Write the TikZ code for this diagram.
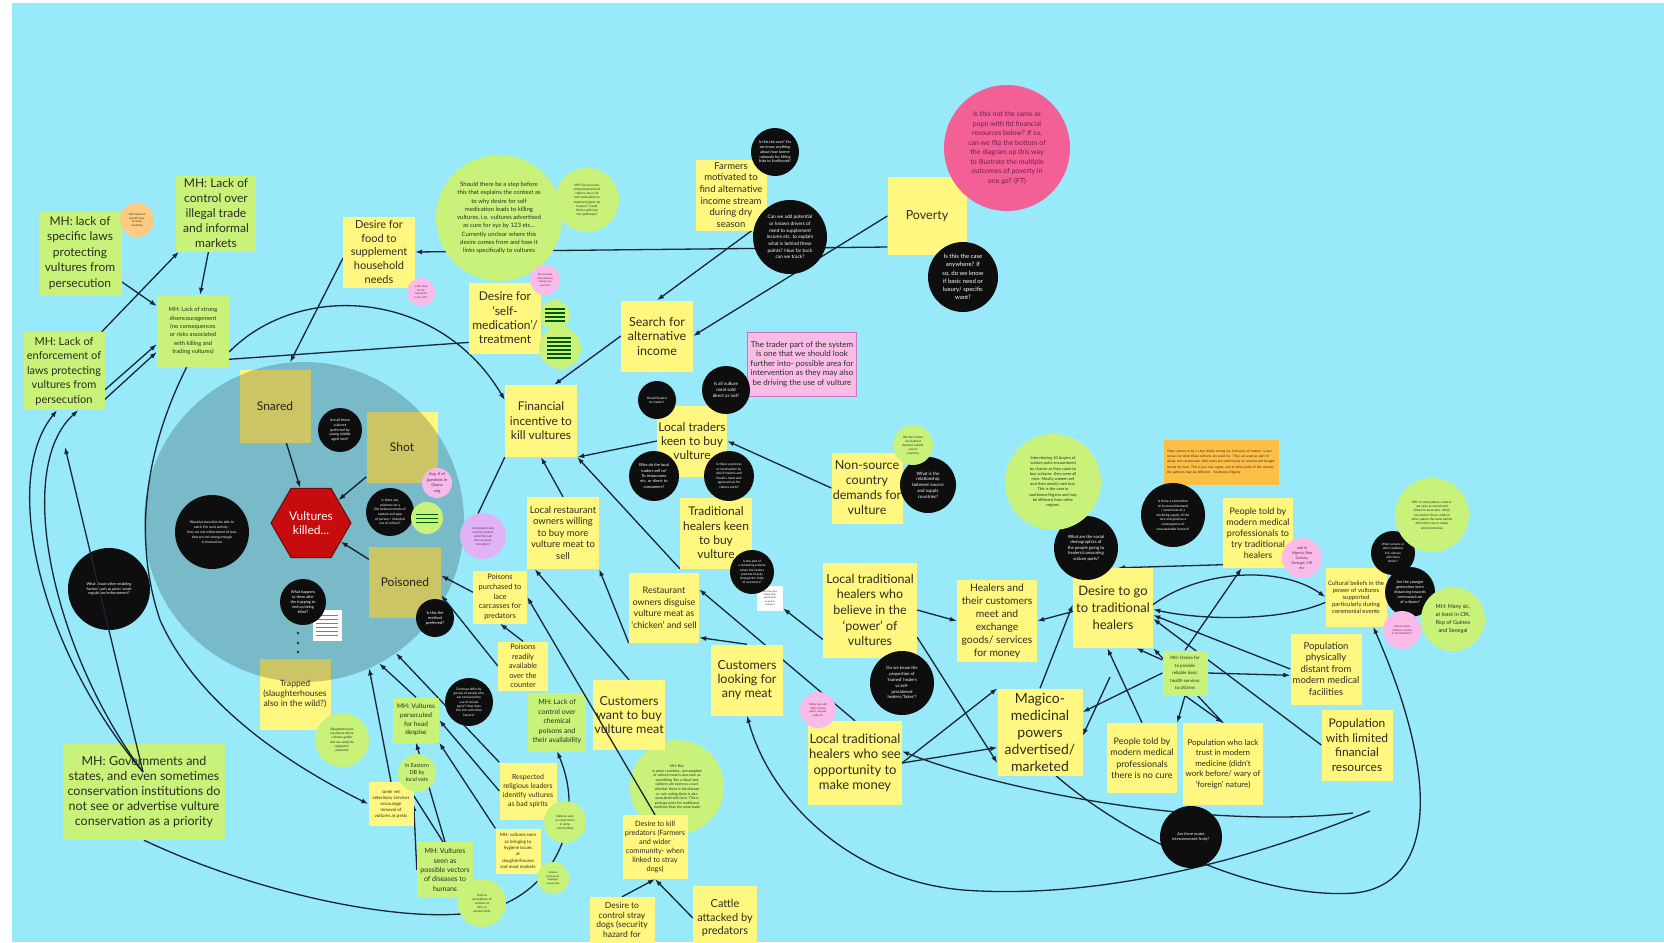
\documentclass[tikz,border=0pt]{standalone}
\usepackage{fontspec}
\setmainfont{Lato}
\usetikzlibrary{arrows.meta,shapes.geometric}
\pgfdeclarelayer{bg}
\pgfdeclarelayer{wires}
\pgfsetlayers{bg,wires,main}
\definecolor{boardcyan}{RGB}{152,233,250}
\definecolor{stickyyellow}{RGB}{255,247,128}
\definecolor{stickygreen}{RGB}{200,242,122}
\definecolor{notepink}{RGB}{249,188,232}
\definecolor{notepinkdark}{RGB}{200,120,180}
\definecolor{lilac}{RGB}{224,178,246}
\definecolor{hotpink}{RGB}{243,96,150}
\definecolor{noteorange}{RGB}{255,190,70}
\definecolor{circorange}{RGB}{255,202,130}
\definecolor{killred}{RGB}{198,12,12}
\definecolor{killdark}{RGB}{110,10,10}
\definecolor{blobblack}{RGB}{14,14,14}
\definecolor{inkc}{RGB}{45,45,30}
\definecolor{pinkink}{RGB}{110,30,80}
\definecolor{wirec}{RGB}{22,38,52}
\newcommand\fsz[2]{\fontsize{#1}{#2}\selectfont}
\tikzset{
  stk/.style 2 args={rectangle, minimum width=#1, minimum height=#2, inner sep=1pt, align=center, text=inkc},
  yel/.style={fill=stickyyellow},
  grn/.style={fill=stickygreen},
  blob/.style={circle, minimum size=#1, inner sep=0pt, align=center},
  blk/.style={fill=blobblack, text=white},
  lime/.style={fill=stickygreen, text=inkc},
  pnk/.style={fill=notepink, text=pinkink},
  arr/.style={draw=wirec, line width=1.3pt, -{Latex[length=7pt,width=5pt]}},
  ln/.style={draw=wirec, line width=1.3pt},
}
\begin{document}
\begin{tikzpicture}[x=1pt,y=-1pt]
\useasboundingbox (0,0) rectangle (1664,942);
\begin{pgfonlayer}{bg}
  \fill[white] (0,0) rectangle (1664,942);
  \fill[boardcyan] (12,3) rectangle (1664,942);
\end{pgfonlayer}

% stickies that sit under the grey circle
\node[stk={71}{73},yel,font=\fsz{12}{15}] (snared) at (275,406) {Snared};
\node[stk={71}{71},yel,font=\fsz{12}{15}] (shot) at (402,447) {Shot};
\node[stk={72}{71},yel,font=\fsz{12}{15}] (poisoned) at (405,582) {Poisoned};
\node[stk={71}{71},yel,font=\fsz{8.6}{10}] (trapped) at (295,694) {Trapped\\(slaughterhouses\\also in the wild?)};
\node[circle, minimum size=320, inner sep=0pt, fill=black, fill opacity=.2] (circ) at (304,522) {};

\node[regular polygon, regular polygon sides=6, minimum size=80, inner sep=0pt, fill=killred, draw=killdark, line width=1pt, text=white, align=center, font=\fsz{12}{14}] (killed) at (311,523) {Vultures\\killed...};

% this one lies under the predators sticky
\node[blob=94,lime,font=\fsz{3.6}{4.6}] (g11) at (677,787) {MH: But,\\in some countries, consumption\\of vulture meat is also seen as\\something ‘like a ritual’ and\\vultures are eaten as a cure\\whether there is the disease\\or not: eating them is also\\associated with luck. This is\\perhaps more for traditional\\medicine than the meat trade};

% MH stickies (green)
\node[stk={83}{83},grn,font=\fsz{12}{15.5}] (lawsspec) at (80,253) {MH: lack of\\specific laws\\protecting\\vultures from\\persecution};
\node[stk={80}{77},grn,font=\fsz{12}{15}] (illegal) at (216,213) {MH: Lack of\\control over\\illegal trade\\and informal\\markets};
\node[stk={72}{72},grn,font=\fsz{5.8}{8.3}] (strong) at (193,331) {MH: Lack of strong\\disencouragement\\(no consequences\\or risks associated\\with killing and\\trading vultures)};
\node[stk={81}{78},grn,font=\fsz{11}{14.5}] (enforce) at (64,371) {MH: Lack of\\enforcement of\\laws protecting\\vultures from\\persecution};
\node[stk={162}{96},grn,font=\fsz{12.5}{15}] (govts) at (144,792) {MH: Governments and\\states, and even sometimes\\conservation institutions do\\not see or advertise vulture\\conservation as a priority};
\node[stk={46}{45},grn,font=\fsz{6.5}{8.7}] (persecuted) at (416,720) {MH: Vultures\\persecuted\\for head\\despise};
\node[stk={56}{56},grn,font=\fsz{7}{9.3}] (vectors) at (445,870) {MH: Vultures\\seen as\\possible vectors\\of diseases to\\humans};
\node[stk={58}{58},grn,font=\fsz{7}{9.5}] (chemical) at (557,722) {MH: Lack of\\control over\\chemical\\poisons and\\their availability};
\node[stk={45}{45},grn,font=\fsz{4.5}{7.5}] (healthserv) at (1185,673) {MH: Desire for\\to provide\\reliable basic\\health services\\to citizens};

% yellow stickies
\node[stk={72}{71},yel,font=\fsz{11}{13.8}] (food) at (379,252) {Desire for\\food to\\supplement\\household\\needs};
\node[stk={72}{71},yel,font=\fsz{12}{14.3}] (selfmed) at (505,318) {Desire for\\‘self-\\medication’/\\treatment};
\node[stk={72}{71},yel,font=\fsz{12.5}{14.5}] (search) at (657,336) {Search for\\alternative\\income};
\node[stk={71}{71},yel,font=\fsz{9.5}{11.7}] (farmers) at (731,195) {Farmers\\motivated to\\find alternative\\income stream\\during dry\\season};
\node[stk={79}{78},yel,font=\fsz{12.5}{15}] (poverty) at (927,216) {Poverty};
\node[stk={72}{72},yel,font=\fsz{12}{14.5}] (financial) at (541,421) {Financial\\incentive to\\kill vultures};
\node[stk={70}{71},yel,font=\fsz{12}{14.3}] (traders) at (692,441) {Local traders\\keen to buy\\vulture};
\node[stk={72}{72},yel,font=\fsz{9.5}{11.5}] (restowners) at (563,533) {Local restaurant\\owners willing\\to buy more\\vulture meat to\\sell};
\node[stk={72}{71},yel,font=\fsz{12}{14.3}] (tradkeen) at (716,533) {Traditional\\healers keen\\to buy\\vulture};
\node[stk={70}{70},yel,font=\fsz{9}{11.5}] (disguise) at (664,608) {Restaurant\\owners disguise\\vulture meat as\\‘chicken’ and sell};
\node[stk={71}{71},yel,font=\fsz{12.5}{15}] (nonsource) at (867,488) {Non-source\\country\\demands for\\vulture};
\node[stk={94}{95},yel,font=\fsz{12.5}{15.7}] (believe) at (870,610) {Local traditional\\healers who\\believe in the\\‘power’ of\\vultures};
\node[stk={80}{82},yel,font=\fsz{10.3}{13}] (exchange) at (997,621) {Healers and\\their customers\\meet  and\\exchange\\goods/ services\\for money};
\node[stk={80}{80},yel,font=\fsz{13}{16.7}] (desirego) at (1113,608) {Desire to go\\to traditional\\healers};
\node[stk={91}{84},yel,font=\fsz{13}{15.5}] (opportunity) at (855,763) {Local traditional\\healers who see\\opportunity to\\make money};
\node[stk={85}{87},yel,font=\fsz{14}{17}] (magico) at (1040,732) {Magico-\\medicinal\\powers\\advertised/\\marketed};
\node[stk={70}{70},yel,font=\fsz{9}{11.5}] (nocure) at (1142,758) {People told by\\modern medical\\professionals\\there is no cure};
\node[stk={80}{82},yel,font=\fsz{8}{10.5}] (lacktrust) at (1223,764) {Population who lack\\trust in modern\\medicine (didn’t\\work before/ wary of\\‘foreign’ nature)};
\node[stk={70}{70},yel,font=\fsz{9}{11}] (trytrad) at (1258,533) {People told by\\modern medical\\professionals to\\try traditional\\healers};
\node[stk={71}{71},yel,font=\fsz{9.5}{11.5}] (distant) at (1326,669) {Population\\physically\\distant from\\modern medical\\facilities};
\node[stk={71}{71},yel,font=\fsz{12}{14.5}] (limited) at (1357,745) {Population\\with limited\\financial\\resources};
\node[stk={61}{59},yel,font=\fsz{6}{7}] (cultural) at (1356,597) {Cultural beliefs in the\\power of vultures\\supported\\particularly during\\ceremonial events};
\node[stk={72}{70},yel,font=\fsz{12.5}{14}] (custwant) at (629,715) {Customers\\want to buy\\vulture meat};
\node[stk={72}{71},yel,font=\fsz{12.5}{14}] (custany) at (747,680) {Customers\\looking for\\any meat};
\node[stk={65}{64},yel,font=\fsz{7.3}{9}] (killpred) at (655,847) {Desire to kill\\predators (Farmers\\and wider\\community- when\\linked to stray\\dogs)};
\node[stk={65}{46},yel,font=\fsz{8.5}{9.8}] (straydogs) at (622,920) {Desire to\\control stray\\dogs (security\\hazard for};
\node[stk={64}{64},yel,font=\fsz{11}{13.5}] (cattle) at (725,918) {Cattle\\attacked by\\predators};
\node[stk={54}{53},yel,font=\fsz{7.5}{9.7}] (poisonspurch) at (500,597) {Poisons\\purchased to\\lace\\carcasses for\\predators};
\node[stk={50}{49},yel,font=\fsz{7.5}{9.5}] (poisonsready) at (523,666) {Poisons\\readily\\available\\over the\\counter};
\node[stk={57}{57},yel,font=\fsz{7}{9}] (religious) at (528,791) {Respected\\religious leaders\\identify vultures\\as bad spirits};
\node[stk={45}{44},yel,font=\fsz{4.5}{6}] (vetbox) at (391,804) {some vet\\veterinary services\\encourage\\removal of\\vultures as pests};
\node[stk={45}{45},yel,font=\fsz{4.5}{6.3}] (hygiene) at (518,851) {MH: vultures seen\\as bringing to\\hygiene issues\\at\\slaughterhouses\\and meat markets};

% notes
\node[stk={109}{64},fill=notepink,draw=notepinkdark,line width=.6pt,font=\fsz{8}{9.5}] (tradernote) at (802,364) {The trader part of the system\\is one that we should look\\further into- possible area for\\intervention as they may also\\be driving the use of vulture};
\node[stk={115}{45},fill=noteorange,font=\fsz{3.3}{5.4},text width=108pt,align=left] (orangenote) at (1221,462) {There seems to be a clear divide during my interview of traders: a consensus on what these vultures are used for. They are used as part of rituals and ceremonies, their parts are sold mostly by women and bought mostly by men. This is just one region, and in other parts of the country the patterns may be different - Southwest Nigeria};
\node[fill=white, minimum width=29, minimum height=31, inner sep=0pt] (w1) at (327,625) {};
\foreach \yy in {-10,-6,-2,2,6,10}
  \draw[gray, line width=1pt] (316,625+\yy) -- (338,625+\yy);
\node[fill=white, minimum width=26, minimum height=25, inner sep=0pt, align=center, text=inkc, font=\fsz{2.4}{3.2}] (w2) at (770,598) {Are they also\\selling other\\animal parts\\as well as\\vultures?};

% black question circles
\node[blob=48,blk,font=\fsz{3.8}{4.8}] (b1) at (775,152) {Is this the case? Do\\we know anything\\about how farmer\\rationale for killing\\links to livelihoods?};
\node[blob=74,blk,font=\fsz{4.8}{6.7}] (b2) at (790,237) {Can we add potential\\or known drivers of\\need to supplement\\income etc. to explain\\what is behind these\\points? How far back\\can we track?};
\node[blob=70,blk,font=\fsz{6}{8.3}] (b3) at (963,277) {Is this the case\\anywhere? If\\so, do we know\\if basic need or\\luxury/ specific\\want?};
\node[blob=44,blk,font=\fsz{3.6}{4.8}] (b4) at (340,430) {Are all these\\vultures\\preferred by\\young middle\\aged men?};
\node[blob=48,blk,font=\fsz{3.3}{4.6}] (b5) at (390,512) {Is there any\\evidence on a\\link between mode of\\capture and type\\of person / intended\\use of vulture?};
\node[blob=74,blk,font=\fsz{3.4}{5}] (b6) at (212,532) {Would prosecution be able to\\catch if in such activity -\\they are not enforcement of laws\\that are not strong enough\\in themselves};
\node[blob=82,blk,font=\fsz{3.8}{4.8}] (b7) at (109,589) {What about other enabling\\factors such as poor/ weak\\regulation/enforcement?};
\node[blob=46,blk,font=\fsz{3.8}{5}] (b8) at (303,602) {What happens\\to them after\\the trapping to\\end up being\\killed?};
\node[blob=38,blk,font=\fsz{4}{5}] (b9) at (435,618) {Is this the\\method\\preferred?};
\node[blob=48,blk,font=\fsz{3.2}{4.3}] (b10) at (469,702) {Do these differ by\\groups of people who\\are concerned by\\use of animal\\parts? How does\\this link with other\\factors?};
\node[blob=38,blk,font=\fsz{3}{4}] (b11) at (657,400) {Should Readers\\be traders?};
\node[blob=48,blk,font=\fsz{4.5}{5.8}] (b12) at (726,390) {Is all vulture\\meat sold\\direct or not?};
\node[blob=50,blk,font=\fsz{4}{5.3}] (b13) at (654,476) {Who do the local\\traders sell to?\\To restaurants\\etc. or direct to\\consumers?};
\node[blob=50,blk,font=\fsz{3.3}{4.5}] (b14) at (729,476) {Is there a process\\or mechanism by\\which traders and\\healers meet and\\agree prices for\\vulture parts?};
\node[blob=44,blk,font=\fsz{3.1}{4.2}] (b15) at (752,572) {Is this part of\\a marketing scheme\\where the healers\\promote heavily\\through the trade\\of customers?};
\node[blob=56,blk,font=\fsz{4.5}{5.8}] (b16) at (928,485) {What is the\\relationship\\between source\\and supply\\countries?};
\node[blob=64,blk,font=\fsz{4.3}{5.6}] (b17) at (1086,548) {What are the social\\demographics of\\the people going to\\healers/consuming\\vulture parts?};
\node[blob=64,blk,font=\fsz{3.3}{4.6}] (b18) at (1173,515) {Is there a connection\\to increased demand\\/ awareness of a\\declining supply of the\\rare and good as a\\consequence of\\unsustainable harvest?};
\node[blob=64,blk,font=\fsz{4.3}{5.8}] (b19) at (902,683) {Do we know the\\proportion of\\‘trained’ healers\\vs self-\\proclaimed\\healers/‘fakes’?};
\node[blob=62,blk,font=\fsz{3.8}{5}] (b20) at (1191,837) {Are there routes\\interconnected firstly?};
\node[blob=44,blk,font=\fsz{3}{4.2}] (b21) at (1393,553) {What cultures or\\other traditions\\link vultures\\with these\\beliefs?};
\node[blob=50,blk,font=\fsz{3.8}{5}] (b22) at (1410,592) {Are the younger\\generation more\\distancing towards\\ceremonial use\\of vultures?};

% green comment circles
\node[blob=126,lime,font=\fsz{6}{8.3}] (g1) at (499,218) {Should there be a step before\\this that explains the context as\\to why desire for self\\medication leads to killing\\vultures, i.e. vultures advertised\\as cure for xyz by 123 etc...\\Currently unclear where this\\desire comes from and how it\\links specifically to vultures};
\node[blob=64,lime,font=\fsz{3.2}{4.2}] (g2) at (587,200) {MH: Do we know\\what proportion of\\vulture use is for\\self-medication vs\\treatment given by\\healers? Could\\this be split into\\two pathways?};
\node[blob=30,lime] (g3) at (555,315) {};
\foreach \yy in {-6,-2,2,6}
  \draw[green!35!black, line width=1.2pt] (545,315+\yy) -- (565,315+\yy);
\node[blob=42,lime] (g4) at (560,348) {};
\foreach \yy in {-10,-6,-2,2,6,10}
  \draw[green!35!black, line width=1.2pt] (547,348+\yy) -- (571,348+\yy);
\node[blob=32,lime] (g5) at (427,518) {};
\foreach \yy in {-4,0,4}
  \draw[green!35!black, line width=.8pt] (416,518+\yy) -- (438,518+\yy);
\node[blob=54,lime,font=\fsz{3.2}{4.3}] (g6) at (342,740) {Slaughterhouses\\are places where\\vultures gather\\and can easily be\\trapped or\\poisoned};
\node[blob=38,lime,font=\fsz{5.5}{7}] (g7) at (417,773) {in Eastern\\DB by\\local vets};
\node[blob=48,lime,font=\fsz{3}{4}] (g8) at (482,903) {Links to\\perceptions of\\vultures as\\dirty or\\unclean birds};
\node[blob=42,lime,font=\fsz{3}{4}] (g9) at (565,822) {Vultures seen\\as a bad omen\\in some\\communities};
\node[blob=32,lime,font=\fsz{2.6}{3.5}] (g10) at (553,878) {Vultures\\perched on\\buildings\\unwelcome};
\node[blob=40,lime,font=\fsz{3}{4}] (g12) at (913,445) {We don’t know\\much about\\demand outside\\source\\countries};
\node[blob=96,lime,font=\fsz{4}{5.2}] (g13) at (1053,482) {Interviewing 10 buyers of\\vulture parts encountered\\by chance as they came to\\buy vultures: they were all\\men. Mostly women sell\\and then mostly men buy.\\This is the case in\\southwest Nigeria and may\\be different from other\\regions.};
\node[blob=74,lime,font=\fsz{3.2}{4.3}] (g14) at (1432,515) {MH: In some places vultures\\are seen as sacred and\\linked to ancestors, which\\can protect them, while in\\other places the same beliefs\\drive their use in rituals\\and ceremonies};
\node[blob=64,lime,font=\fsz{5.5}{8}] (g15) at (1453,619) {MH: Many sic,\\at least in CIK,\\Rep of Guinea\\and Senegal};

% pink and orange comment circles
\node[blob=126,fill=hotpink,text=pinkink,font=\fsz{7}{9.5}] (pbig) at (1007,148) {Is this not the same as\\popn with ltd financial\\resources below? If so,\\can we flip the bottom of\\the diagram up this way\\to illustrate the multiple\\outcomes of poverty in\\one go? (FT)};
\node[blob=28,pnk,font=\fsz{2.6}{3.4}] (p1) at (421,292) {Is this food\\for the\\household\\or for sale?};
\node[blob=30,pnk,font=\fsz{2.6}{3.4}] (p2) at (545,280) {Do we know\\what ailments\\vultures are\\used for?};
\node[blob=30,fill=notepink!85!lilac,text=pinkink,font=\fsz{4}{5.5}] (p3) at (437,483) {Avg. \# of\\gunshots in\\Ghana\\mtg};
\node[blob=46,fill=lilac,text=pinkink,font=\fsz{3}{4}] (p4) at (483,536) {Are poisons also\\used by hunters\\who then sell\\the carcasses\\to traders?};
\node[blob=36,pnk,font=\fsz{2.8}{3.7}] (p5) at (818,710) {Many also sell\\other animal\\parts, not just\\vultures};
\node[blob=40,pnk,font=\fsz{3.8}{5}] (p6) at (1302,558) {add in\\Nigeria, Rep\\Guinea,\\Senegal, CIK\\etc};
\node[blob=38,pnk,font=\fsz{2.8}{3.7}] (p7) at (1402,630) {Is there some\\evidence of this\\in the literature?};
\node[blob=34,fill=circorange,text=inkc,font=\fsz{2.8}{3.6}] (o1) at (137,220) {Not aware of\\specific laws\\in many\\countries};

\foreach \yy in {633,643,652}
  \fill[inkc] (298,\yy) circle (1.4);

\coordinate (gmid) at (143,772);
\coordinate (gup) at (65,447);
\coordinate (f1) at (1353,813);
\coordinate (f2) at (1370,811);
\coordinate (f3) at (1110,677);

% connectors, under the stickies
\begin{pgfonlayer}{wires}
\draw[arr] (lawsspec) -- (strong);
\draw[arr] (enforce) -- (illegal);
\draw[arr] (illegal) -- (strong);
\draw[arr] (enforce.-25) -- (strong.-160);
\draw[arr] (enforce.-35) -- (strong.-150);
\draw[arr] (strong.-30) .. controls (300,280) and (440,290) .. (financial.150);
\draw[ln] (strong.-38) -- (selfmed.-146);
\draw[arr] (strong.-100) .. controls (150,440) and (130,530) .. (160,620) .. controls (200,710) and (300,770) .. (vetbox.west);
\draw[arr] (food.190) -- (circ.95);
\draw[arr] (poverty.218) -- (food.east);
\draw[arr] (poverty.west) -- (search.east);
\draw[arr] (farmers.-60) -- (search.north);
\draw[arr] (search.west) -- (financial.70);
\draw[arr] (traders.west) -- (financial.south east);
\draw[arr] (nonsource.west) -- (traders.east);
\draw[arr] (tradkeen.south west) -- (financial.south east);
\draw[arr] (restowners.north) -- (financial.south);
\draw[arr] (financial.south west) -- (circ.-9);
\draw[arr] (snared) -- (killed);
\draw[arr] (shot) -- (killed);
\draw[arr] (poisoned) -- (killed);
\draw[arr] (poisonspurch.170) -- (poisoned.10);
\draw[arr] (poisonsready.north) -- (poisonspurch.south);
\draw[arr] (poisonsready.west) -- (poisoned.-20);
\draw[arr] (disguise.south west) -- (restowners.south east);
\draw[arr] (custany.north) -- (disguise.-40);
\draw[arr] (opportunity.north) -- (disguise.28);
\draw[arr] (custwant.north) -- (restowners.-128);
\draw[arr] (straydogs.north) -- (killpred.south);
\draw[arr] (cattle.west) -- (killpred.south);
\draw[arr] (govts.south) .. controls (260,895) and (400,922) .. (470,913) .. controls (545,905) and (590,830) .. (chemical.south);
\draw[arr] (vetbox.north) -- (circ.-66);
\draw[arr] (persecuted.north) -- (circ.-62);
\draw[arr] (religious.north west) -- (circ.-55);
\draw[arr] (religious.west) -- (persecuted.east);
\draw[arr] (hygiene.north west) -- (persecuted.south east);
\draw[arr] (vectors.north) -- (persecuted.south);
\draw[arr] (vectors.west) -- (vetbox.east);
\draw[ln] (vetbox.20) -- (g8);
\draw[arr] (believe.east) -- (exchange.west);
\draw[arr] (desirego.185) -- (exchange.east);
\draw[arr] (magico.north) -- (desirego.175);
\draw[arr] (believe.-30) -- (magico.216);
\draw[arr] (opportunity.east) -- (magico.north west);
\draw[arr] (opportunity.east) -- (magico.200);
\draw[arr] (f1) .. controls (1200,830) and (1000,790) .. (opportunity.14);
\draw[arr] (magico.-70) .. controls (1130,840) and (1260,900) .. (1355,893) .. controls (1430,885) and (1445,790) .. (cultural.-60);
\draw[arr] (f2) .. controls (1250,860) and (1100,900) .. (963,890) .. controls (850,880) and (770,800) .. (custany.south);
\draw[arr] (desirego.5) .. controls (1200,570) and (1280,565) .. (cultural.west);
\draw[arr] (cultural.-170) .. controls (1280,622) and (1200,620) .. (desirego.-2);
\draw[arr] (healthserv.north) -- (trytrad.-115);
\draw[arr] (trytrad.222) -- (desirego.83);
\draw[arr] (distant.west) -- (desirego.-10);
\draw[arr] (healthserv.east) -- (distant.-170);
\draw[arr] (limited.west) -- (desirego.-15);
\draw[arr] (nocure.north) -- (desirego.-98);
\draw[arr] (lacktrust.north) -- (desirego.south east);
\draw[arr] (healthserv.south) -- (lacktrust.north);
\draw[arr] (healthserv.south) -- (nocure.north east);
\draw[arr] (healthserv.west) -- (magico.25);
\draw[arr] (f3) -- (magico.-5);
\draw[arr] (healthserv.150) -- (desirego.-60);
\draw[arr] (believe.212) -- (w2);
\end{pgfonlayer}

% the lines that run over the stickies
\draw[arr] (killpred.north) -- (poisonspurch.east);
\draw[arr] (gmid) -- (gup);
\draw[arr] (gmid) .. controls (40,650) and (0,480) .. (enforce.-100);
\draw[arr] (gmid) .. controls (55,655) and (12,470) .. (enforce.-70);
\end{tikzpicture}
\end{document}
